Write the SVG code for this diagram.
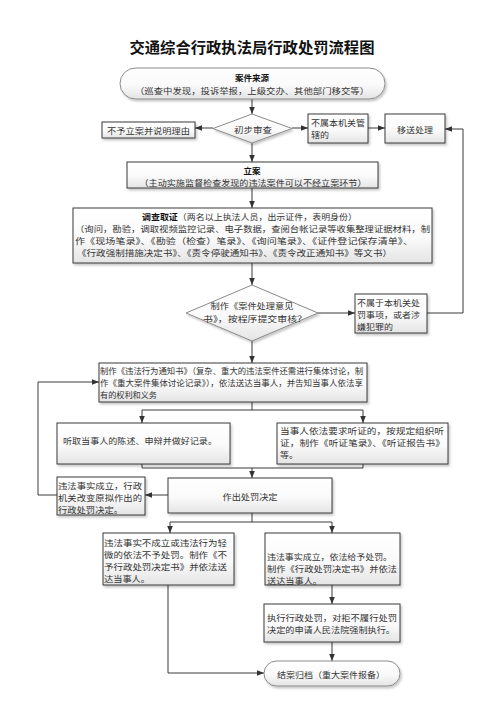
<svg xmlns="http://www.w3.org/2000/svg" width="504" height="713" viewBox="0 0 504 713">
<defs>
<linearGradient id="g" x1="0" y1="0" x2="0" y2="1">
<stop offset="0" stop-color="#ffffff"/>
<stop offset="0.55" stop-color="#fafafa"/>
<stop offset="1" stop-color="#e4e4e4"/>
</linearGradient>
<filter id="sh" x="-10%" y="-10%" width="130%" height="140%">
<feDropShadow dx="1.5" dy="2" stdDeviation="1.2" flood-color="#000" flood-opacity="0.22"/>
</filter>
<marker id="a" viewBox="0 0 10 10" refX="10" refY="5" markerWidth="7" markerHeight="7" markerUnits="userSpaceOnUse" orient="auto">
<path d="M0,1 L10,5 L0,9 z" fill="#333"/>
</marker>
<style>
.box{fill:url(#g);stroke:#3a3a3a;stroke-width:1;filter:url(#sh)}
.rnd{fill:url(#g);stroke:#8a8a8a;stroke-width:1;filter:url(#sh)}
.dia{fill:url(#g);stroke:#8a8a8a;stroke-width:1;filter:url(#sh)}
.t{font-family:"Noto Sans CJK SC","Noto Sans CJK JP",sans-serif;font-size:8.5px;fill:#333;dominant-baseline:central}
.c{text-anchor:middle}
.b{font-weight:bold;fill:#111}
.cn path{fill:none;stroke:#3a3a3a;stroke-width:1}
.ar{marker-end:url(#a)}
</style>
</defs>
<rect width="504" height="713" fill="#fff"/>
<text id="title" x="252" y="46" class="t c b" style="font-size:15.3px" textLength="245" lengthAdjust="spacingAndGlyphs">交通综合行政执法局行政处罚流程图</text>

<g class="cn">
<path class="ar" d="M252,99 V114"/>
<path class="ar" d="M213,128 H195"/>
<path class="ar" d="M292,128 H308"/>
<path class="ar" d="M368,128 H385"/>
<path class="ar" d="M252,143 V162"/>
<path class="ar" d="M252,188 V208"/>
<path class="ar" d="M252,263 V285"/>
<path class="ar" d="M318,313 H355"/>
<path class="ar" d="M427,313 H463 V129 H445"/>
<path class="ar" d="M252,341 V363"/>
<path d="M252,402 V410 M142,410 H363"/>
<path class="ar" d="M142,410 V423"/>
<path class="ar" d="M363,410 V423"/>
<path d="M142,464 V468 H363 V464"/>
<path class="ar" d="M252,468 V478"/>
<path class="ar" d="M168,495 H145"/>
<path class="ar" d="M57,495 H38 V382 H99"/>
<path d="M252,513 V522 M170,522 H332"/>
<path class="ar" d="M170,522 V533"/>
<path class="ar" d="M332,522 V533"/>
<path class="ar" d="M168,585 V673 H264"/>
<path class="ar" d="M332,585 V604"/>
<path class="ar" d="M332,642 V661"/>
</g>

<g id="n-source">
<rect class="rnd" x="120" y="68" width="265" height="31" rx="15.5"/>
<text x="252" y="77" class="t c b">案件来源</text>
<text x="252" y="89.5" class="t c" textLength="234" lengthAdjust="spacingAndGlyphs">（巡查中发现，投诉举报，上级交办、其他部门移交等）</text>
</g>

<g id="n-review">
<path class="dia" d="M252,114 L292,128.5 L252,143 L213,128.5 z"/>
<text x="253" y="128.5" class="t c" textLength="38" lengthAdjust="spacingAndGlyphs">初步审查</text>
</g>

<g id="n-reject">
<rect class="box" x="102" y="122" width="93" height="16"/>
<text x="148.5" y="130" class="t c" textLength="83" lengthAdjust="spacingAndGlyphs">不予立案并说明理由</text>
</g>

<g id="n-notjur">
<rect class="box" x="308" y="114" width="60" height="29"/>
<text x="311" y="122" class="t" textLength="54" lengthAdjust="spacingAndGlyphs">不属本机关管</text>
<text x="311" y="134" class="t" textLength="18" lengthAdjust="spacingAndGlyphs">辖的</text>
</g>

<g id="n-transfer">
<rect class="box" x="385" y="114" width="60" height="29"/>
<text x="415" y="129" class="t c" textLength="36" lengthAdjust="spacingAndGlyphs">移送处理</text>
</g>

<g id="n-filing">
<rect class="box" x="127" y="162" width="251" height="26"/>
<text x="252" y="169.5" class="t c b">立案</text>
<text x="253" y="182" class="t c" textLength="227" lengthAdjust="spacingAndGlyphs">（主动实施监督检查发现的违法案件可以不经立案环节）</text>
</g>

<g id="n-investigate">
<rect class="box" x="73" y="208" width="359" height="55"/>
<text x="142" y="216" class="t" textLength="215" lengthAdjust="spacingAndGlyphs"><tspan class="b">调查取证</tspan>（两名以上执法人员，出示证件，表明身份）</text>
<text x="75" y="228" class="t" textLength="355" lengthAdjust="spacingAndGlyphs">（询问，勘验，调取视频监控记录、电子数据，查阅台帐记录等收集整理证据材料，制</text>
<text x="75" y="240" class="t" textLength="338" lengthAdjust="spacingAndGlyphs">作《现场笔录》、《勘验（检查）笔录》、《询问笔录》、《证件登记保存清单》、</text>
<text x="77" y="252" class="t" textLength="315" lengthAdjust="spacingAndGlyphs">《行政强制措施决定书》、《责令停驶通知书》、《责令改正通知书》等文书）</text>
</g>

<g id="n-opinion">
<path class="dia" d="M252,285 L318,313 L252,341 L186,313 z"/>
<text x="252" y="305" class="t c" textLength="83" lengthAdjust="spacingAndGlyphs">制作《案件处理意见</text>
<text x="255" y="318" class="t c" textLength="104" lengthAdjust="spacingAndGlyphs">书》，按程序提交审核？</text>
</g>

<g id="n-crime">
<rect class="box" x="355" y="294" width="72" height="39"/>
<text x="357" y="302" class="t" textLength="63" lengthAdjust="spacingAndGlyphs">不属于本机关处</text>
<text x="357" y="314" class="t" textLength="63" lengthAdjust="spacingAndGlyphs">罚事项，或者涉</text>
<text x="357" y="326" class="t" textLength="36" lengthAdjust="spacingAndGlyphs">嫌犯罪的</text>
</g>

<g id="n-notice">
<rect class="box" x="99" y="363" width="268" height="39"/>
<text x="100" y="369.5" class="t" textLength="263" lengthAdjust="spacingAndGlyphs">制作《违法行为通知书》（复杂、重大的违法案件还需进行集体讨论，制</text>
<text x="100" y="381.5" class="t" textLength="263" lengthAdjust="spacingAndGlyphs">作《重大案件集体讨论记录》），依法送达当事人，并告知当事人依法享</text>
<text x="100" y="393.5" class="t" textLength="57" lengthAdjust="spacingAndGlyphs">有的权利和义务</text>
</g>

<g id="n-statement">
<rect class="box" x="57" y="423" width="173" height="41"/>
<text x="63" y="440" class="t" textLength="154" lengthAdjust="spacingAndGlyphs">听取当事人的陈述、申辩并做好记录。</text>
</g>

<g id="n-hearing">
<rect class="box" x="277" y="423" width="171" height="41"/>
<text x="280" y="430" class="t" textLength="164" lengthAdjust="spacingAndGlyphs">当事人依法要求听证的，按规定组织听</text>
<text x="280" y="442" class="t" textLength="165" lengthAdjust="spacingAndGlyphs">证，制作《听证笔录》、《听证报告书》</text>
<text x="280" y="454" class="t" textLength="18" lengthAdjust="spacingAndGlyphs">等。</text>
</g>

<g id="n-decision">
<rect class="box" x="168" y="478" width="164" height="35"/>
<text x="250" y="496" class="t c" textLength="55" lengthAdjust="spacingAndGlyphs">作出处罚决定</text>
</g>

<g id="n-change">
<rect class="box" x="57" y="477" width="88" height="38"/>
<text x="58" y="484.5" class="t" textLength="84" lengthAdjust="spacingAndGlyphs">违法事实成立，行政</text>
<text x="58" y="496.5" class="t" textLength="84" lengthAdjust="spacingAndGlyphs">机关改变原拟作出的</text>
<text x="58" y="508.5" class="t" textLength="65" lengthAdjust="spacingAndGlyphs">行政处罚决定。</text>
</g>

<g id="n-nopunish">
<rect class="box" x="103" y="533" width="131" height="52"/>
<text x="104" y="541.5" class="t" textLength="123" lengthAdjust="spacingAndGlyphs">违法事实不成立或违法行为轻</text>
<text x="104" y="553.5" class="t" textLength="123" lengthAdjust="spacingAndGlyphs">微的依法不予处罚。制作《不</text>
<text x="104" y="565.5" class="t" textLength="123" lengthAdjust="spacingAndGlyphs">予行政处罚决定书》并依法送</text>
<text x="104" y="577.5" class="t" textLength="46" lengthAdjust="spacingAndGlyphs">达当事人。</text>
</g>

<g id="n-punish">
<rect class="box" x="265" y="533" width="135" height="52"/>
<text x="267" y="556" class="t" textLength="125" lengthAdjust="spacingAndGlyphs">违法事实成立，依法给予处罚。</text>
<text x="267" y="568" class="t" textLength="130" lengthAdjust="spacingAndGlyphs">制作《行政处罚决定书》并依法</text>
<text x="267" y="580" class="t" textLength="55" lengthAdjust="spacingAndGlyphs">送达当事人。</text>
</g>

<g id="n-execute">
<rect class="box" x="264" y="604" width="136" height="38"/>
<text x="267" y="617" class="t" textLength="130" lengthAdjust="spacingAndGlyphs">执行行政处罚，对拒不履行处罚</text>
<text x="267" y="629" class="t" textLength="128" lengthAdjust="spacingAndGlyphs">决定的申请人民法院强制执行。</text>
</g>

<g id="n-close">
<rect class="rnd" x="264" y="661" width="136" height="25" rx="12.5"/>
<text x="331" y="674" class="t c" textLength="108" lengthAdjust="spacingAndGlyphs">结案归档（重大案件报备）</text>
</g>
</svg>
